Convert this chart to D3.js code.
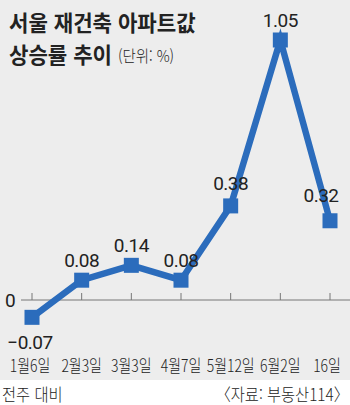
<!DOCTYPE html>
<html lang="ko">
<head>
<meta charset="UTF-8">
<script src="https://d3js.org/d3.v7.min.js"></script>
<style>
  body { margin: 0; padding: 0; background: #fff; }
  svg { display: block; }
  .kr { font-family: "Noto Sans CJK KR", sans-serif; fill: #222; }
  .num { font-family: "Liberation Sans Narrow", "Roboto", sans-serif; fill: #222; }
</style>
</head>
<body>
<svg width="350" height="405"></svg>
<script>
  const categories = ["1월6일", "2월3일", "3월3일", "4월7일", "5월12일", "6월2일", "16일"];
  const values = [-0.07, 0.08, 0.14, 0.08, 0.38, 1.05, 0.32];
  const valueLabels = ["−0.07", "0.08", "0.14", "0.08", "0.38", "1.05", "0.32"];

  const svg = d3.select("svg");
  const blue = "#2b6cbc";

  // background panels
  svg.append("rect").attr("width", 350).attr("height", 380).attr("fill", "#ededed");
  svg.append("rect").attr("y", 380).attr("width", 350).attr("height", 25).attr("fill", "#fff");

  // condensed text helper
  const ctext = (px, py, sx) => svg.append("text").attr("class", "kr")
    .attr("transform", `translate(${px},${py}) scale(${sx},1)`);

  // title
  ctext(9, 30.5, 0.96).style("font-size", "22px").style("font-weight", "bold").text("서울 재건축 아파트값");
  ctext(9, 63, 0.96).style("font-size", "22px").style("font-weight", "bold").text("상승률 추이");
  ctext(118, 62, 0.9).style("font-size", "16px").style("font-weight", "300").text("(단위: %)");

  const x = d3.scalePoint().domain(categories).range([32, 330]);
  const y = d3.scaleLinear().domain([0, 1.05]).range([300, 40]);

  // zero axis
  svg.append("line").attr("x1", 21).attr("x2", 350)
    .attr("y1", y(0)).attr("y2", y(0)).attr("stroke", "#777").attr("stroke-width", 1);
  svg.selectAll(".tick").data(categories).join("line")
    .attr("x1", d => x(d)).attr("x2", d => x(d))
    .attr("y1", y(0)).attr("y2", y(0) - 7)
    .attr("stroke", "#777").attr("stroke-width", 1);
  svg.append("text").attr("class", "num").attr("x", 5).attr("y", y(0) + 7)
    .style("font-size", "19px").text("0");

  // line
  const data = categories.map((c, i) => ({ c, v: values[i], label: valueLabels[i] }));
  svg.append("path").datum(data)
    .attr("d", d3.line().x(d => x(d.c)).y(d => y(d.v)))
    .attr("fill", "none").attr("stroke", blue).attr("stroke-width", 6.5)
    .attr("stroke-linejoin", "miter");

  const sz = 15;
  svg.selectAll(".marker").data(data).join("rect")
    .attr("x", d => x(d.c) - sz / 2).attr("y", d => y(d.v) - sz / 2)
    .attr("width", sz).attr("height", sz).attr("fill", blue);

  // value labels
  svg.selectAll(".vlabel").data(data).join("text")
    .attr("class", "num")
    .attr("text-anchor", "middle")
    .attr("x", (d, i) => x(d.c) + (i === 6 ? -9 : i === 0 ? -2 : 0))
    .attr("y", (d, i) => i === 0 ? y(d.v) + 32 : y(d.v) - (i === 6 ? 19 : i === 4 ? 16 : 13))
    .style("font-size", "19px").style("letter-spacing", "-0.5px")
    .text(d => d.label);

  // x labels
  svg.selectAll(".xlabel").data(categories).join("text")
    .attr("class", "kr").attr("text-anchor", "middle")
    .attr("transform", (d, i) => `translate(${x(d) - (i === 0 ? 2 : i === 6 ? 3 : 0)},372) scale(0.82,1)`)
    .style("font-size", "17px").style("font-weight", "300")
    .text(d => d);

  // footer
  ctext(2, 401, 0.9).style("font-size", "17px").style("font-weight", "300").text("전주 대비");
  ctext(349, 401, 0.9).attr("text-anchor", "end").style("font-size", "17px").style("font-weight", "300")
    .text("〈자료: 부동산114〉");
</script>
</body>
</html>
